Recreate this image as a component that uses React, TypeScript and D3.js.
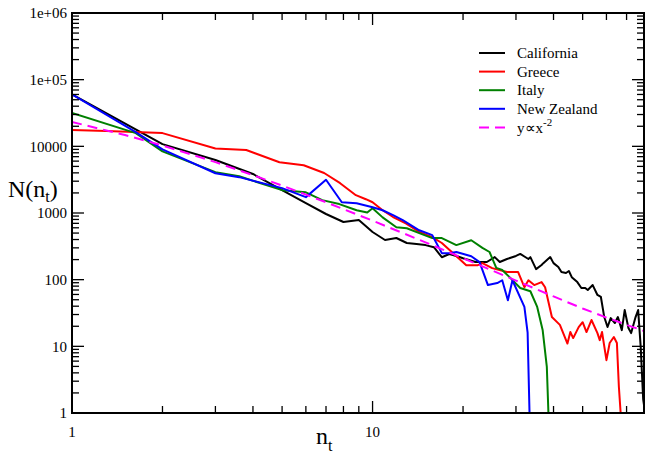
import React from 'react'
import * as d3 from 'd3'

// n_t, N(n_t) pairs
const california: [number, number][] = [
  [1, 60000], [2, 10800], [3, 6240], [4, 3850], [5, 2200], [6, 1410], [7, 966], [8, 733],
  [9, 785], [10, 519], [11, 394], [12, 422], [13, 355], [14, 343], [15, 330], [16, 307],
  [17, 217], [18, 243], [19, 227], [20, 210], [22, 184], [24, 184], [25.5, 218], [26.5, 184],
  [28, 204], [30, 227], [31, 243], [33, 204], [33.5, 218], [35, 144], [36.5, 166], [37, 177],
  [39, 218], [40, 177], [41.5, 155], [42.5, 130], [44, 126], [45, 135], [46, 109], [48, 92],
  [49.5, 75], [51, 75], [52, 70], [54, 83], [56, 59], [57.5, 55], [59, 27.5], [60.5, 19.5],
  [62, 26.5], [64, 22.4], [65.5, 27.5], [67.5, 17.5], [69, 35], [71, 18.8], [72.5, 15.8],
  [75, 27.5], [76.5, 35], [78, 9.8], [79.5, 1.6], [81, 0.9],
]
const greece: [number, number][] = [
  [1, 17600], [1.3, 17000], [2, 15800], [3, 9300], [3.8, 8800], [4.9, 5780], [5.9, 5200],
  [6.9, 3980], [7.8, 2800], [8.8, 1850], [9.5, 1610], [10, 1450], [10.8, 1100], [11.7, 870],
  [12.9, 700], [14.3, 520], [15.8, 435], [17, 355], [20.5, 165], [22.4, 165], [23.2, 177],
  [25, 149], [28, 130], [30.5, 130], [32, 77], [33, 98], [34.5, 83], [36.5, 92], [37.5, 77],
  [39.5, 27.5], [42, 21], [44.5, 11], [45.5, 16.4], [46.5, 13.3], [48.5, 19.4], [50, 23],
  [51.5, 16.4], [53.5, 24.8], [56, 15.8], [57, 12.4], [58, 16.4], [60, 6.2], [61.5, 11.2],
  [63.5, 13.8], [65, 11.2], [66, 2.45], [67, 0.9],
]
const italy: [number, number][] = [
  [1, 31600], [1.63, 15800], [2, 8400], [3, 4100], [3.6, 3550], [5, 2200], [6, 2040],
  [6.8, 1560], [7.75, 1360], [8.85, 1100], [9.6, 1020], [10, 1180], [10.8, 860], [12, 610],
  [13, 590], [14.3, 500], [15.8, 420], [17, 420], [19, 330], [21.3, 390], [23.2, 300],
  [24.5, 260], [25.8, 150], [27, 140], [28.5, 110], [31, 75], [33.5, 67], [35.3, 39],
  [36.8, 17.6], [38, 4.9], [38.5, 0.9],
]
const newZealand: [number, number][] = [
  [1, 60000], [1.63, 16300], [2, 9000], [3, 3950], [3.6, 3450], [5, 2360], [6, 1730],
  [7, 3150], [7.9, 1450], [8.85, 1400], [10, 1220], [10.8, 1100], [11.7, 930], [12.6, 780],
  [14.3, 550], [15.8, 465], [17, 250], [18, 250], [19, 260], [21.3, 225], [22.7, 183],
  [24.2, 83], [26, 89], [27, 98], [28.2, 49], [29.2, 98], [32, 39], [32.8, 16], [33.3, 0.9],
]
const powerLaw: [number, number][] = [
  [1, 23200], [1.5, 14800], [2, 10300], [3, 5800], [4, 3700], [5, 2580], [7, 1450],
  [10, 767], [15, 363], [20, 210], [30, 97], [40, 56], [50, 37], [60, 27], [70, 21], [80, 17],
]

const seriesNames = ['California', 'Greece', 'Italy', 'New Zealand', 'y\u221dx']
const seriesColors = ['#000000', '#ff0000', '#008000', '#0000ff', '#ff00ff']
const seriesData = [california, greece, italy, newZealand, powerLaw]

const yTickValues = [1, 10, 100, 1000, 10000, 100000, 1000000]
const yTickLabels = ['1', '10', '100', '1000', '10000', '1e+05', '1e+06']
const xTickValues = [1, 10]
const xTickLabels = ['1', '10']

const W = 646
const H = 460
const left = 72
const right = 644
const top = 13
const bottom = 413
const font = '"Liberation Serif", "Times New Roman", Times, serif'

export default function App() {
  const x = d3.scaleLog().domain([1, 80]).range([left, right])
  const y = d3.scaleLog().domain([1, 1000000]).range([bottom, top])
  const line = d3.line<[number, number]>()
    .x(d => x(d[0]))
    .y(d => y(d[1]))

  const isMajor = (v: number) => Math.abs(Math.log10(v) - Math.round(Math.log10(v))) < 1e-9
  const xTicks = x.ticks()
  const yTicks = y.ticks()

  return (
    <svg width={W} height={H}
      style={{ position: 'absolute', left: 0, top: 0, background: '#fff', fontFamily: font }}>
      <defs>
        <clipPath id="plot">
          <rect x={left} y={top} width={right - left} height={bottom - top} />
        </clipPath>
      </defs>

      <g clipPath="url(#plot)">
        {seriesData.map((d, i) => (
          <path key={i} d={line(d) || ''} fill="none" stroke={seriesColors[i]}
            strokeWidth={2} strokeDasharray={i === 4 ? '10,6' : undefined}
            strokeLinejoin="round" />
        ))}
      </g>

      {/* ticks on all four sides, pointing inward */}
      <g stroke="#000" strokeWidth={1.3}>
        {xTicks.map((t, i) => {
          const len = isMajor(t) ? 12 : 7
          const px = x(t)
          return (
            <g key={'x' + i}>
              <line x1={px} x2={px} y1={bottom} y2={bottom - len} />
              <line x1={px} x2={px} y1={top} y2={top + len} />
            </g>
          )
        })}
        {yTicks.map((t, i) => {
          const len = isMajor(t) ? 12 : 7
          const py = y(t)
          return (
            <g key={'y' + i}>
              <line x1={left} x2={left + len} y1={py} y2={py} />
              <line x1={right} x2={right - len} y1={py} y2={py} />
            </g>
          )
        })}
      </g>
      <rect x={left} y={top} width={right - left} height={bottom - top} fill="none"
        stroke="#000" strokeWidth={2} />

      {yTickValues.map((v, i) => (
        <text key={'yl' + i} x={left - 5} y={y(v)} dy="0.35em" textAnchor="end" fontSize={15}>
          {yTickLabels[i]}
        </text>
      ))}
      {xTickValues.map((v, i) => (
        <text key={'xl' + i} x={x(v)} y={bottom + 24} textAnchor="middle" fontSize={15}>
          {xTickLabels[i]}
        </text>
      ))}

      <text x={8} y={197} fontSize={24}>
        N(n<tspan fontSize={16} dy={5}>t</tspan><tspan dy={-5}>)</tspan>
      </text>
      <text x={316} y={444} fontSize={24}>
        n<tspan fontSize={16} dy={7}>t</tspan>
      </text>

      <g fontSize={15}>
        {seriesNames.map((name, i) => {
          const ly = 53 + i * 18.6
          return (
            <g key={'lg' + i}>
              <line x1={479} x2={505} y1={ly} y2={ly} stroke={seriesColors[i]} strokeWidth={2}
                strokeDasharray={i === 4 ? '10,6' : undefined} />
              <text x={517} y={ly} dy="0.35em">
                {name}
                {i === 4 && <tspan fontSize={11} dy={-7}>-2</tspan>}
              </text>
            </g>
          )
        })}
      </g>
    </svg>
  )
}
